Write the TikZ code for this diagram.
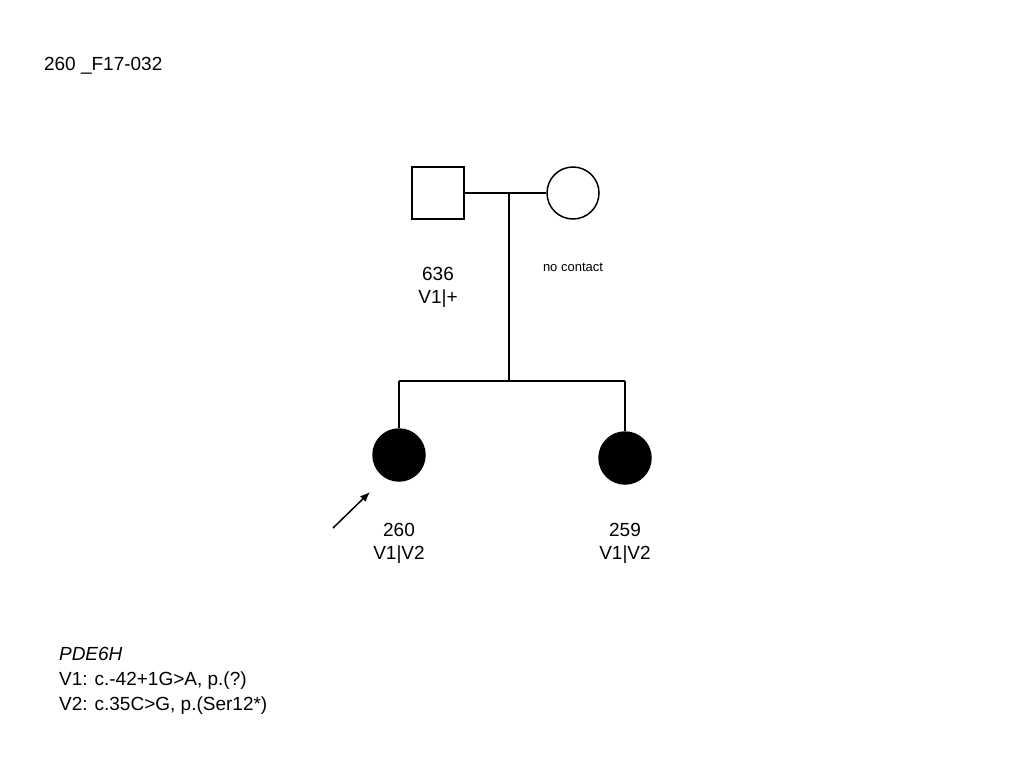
\documentclass[tikz,border=0pt]{standalone}
\usepackage{fontspec}
\setmainfont{Liberation Sans}
\usetikzlibrary{arrows.meta}
\begin{document}
\begin{tikzpicture}[x=1pt,y=-1pt,line width=1.5pt,
  lbl/.style={font=\fontsize{19}{23}\selectfont,align=center},
  ind/.style={draw,minimum size=52pt,inner sep=0pt}]
\useasboundingbox (0,0) rectangle (1024,768);
\node[lbl,anchor=west] (title) at (40,66) {260 \_F17-032};
\node[ind,rectangle] (f) at (438,193) {};
\node[ind,circle] (m) at (573,193) {};
\coordinate (mid) at (509,193);
\coordinate (sib) at (509,381);
\coordinate (sl) at (399,381);
\coordinate (sr) at (625,381);
\node[ind,circle,fill=black] (c1) at (399,455) {};
\node[ind,circle,fill=black] (c2) at (625,458) {};
\draw (f) -- (m);
\draw (mid) -- (sib);
\draw (sl) -- (sr);
\draw (sl) -- (c1);
\draw (sr) -- (c2);
\coordinate (as) at (333,528);
\draw[-{Latex[length=10pt,width=8pt]}] (as) -- (370,492);
\node[lbl] (l1) at (438,287) {636\\V1|+};
\node[font=\fontsize{13}{15}\selectfont] (nc) at (573,267) {no contact};
\node[lbl] (l2) at (399,543) {260\\V1|V2};
\node[lbl] (l3) at (625,543) {259\\V1|V2};
\node[lbl,anchor=north west,align=left] (leg) at (55,643) {\textit{PDE6H}\\[2pt]V1: c.-42+1G>A, p.(?)\\[2pt]V2: c.35C>G, p.(Ser12*)};
\end{tikzpicture}
\end{document}
